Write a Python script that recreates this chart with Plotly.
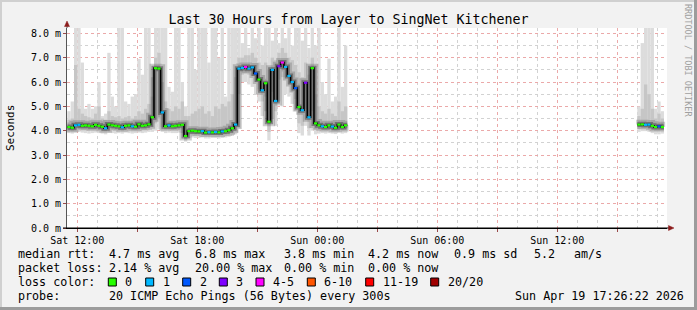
import plotly.graph_objects as go

# ---------------- data ----------------
STEP = 1 / 6  # 10-minute steps, in hours since Sat 00:00

R1_START = 11.5
R1_MED = [4.15, 4.12, 4.22, 4.24, 4.20, 4.22, 4.20, 4.18, 4.24, 4.20,
          4.16, 4.10, 4.25, 4.22, 4.20, 4.18, 4.14, 4.20, 4.22, 4.18,
          4.16, 4.26, 4.20, 4.22, 4.26, 4.55, 6.57, 6.55, 4.75, 4.18,
          4.22, 4.18, 4.20, 4.22, 4.24, 3.78, 3.98, 4.00, 3.98, 3.97,
          3.98, 3.92, 3.94, 3.93, 3.95, 3.93, 3.97, 3.98, 4.02, 4.10,
          4.25, 6.55, 6.58, 6.62, 6.55, 6.60, 6.35, 6.10, 5.66, 5.95,
          4.37, 6.50, 5.22, 6.65, 6.80, 6.62, 6.25, 6.00, 5.75, 4.97,
          4.84, 5.97, 4.55, 6.57, 4.30, 4.22, 4.18, 4.15, 4.22, 4.17,
          4.12, 4.25, 4.15, 4.22]
R1_LOSS = [0, 0, 1, 1, 0, 0, 0, 0, 0, 0,
           0, 1, 0, 0, 0, 0, 1, 0, 0, 1,
           0, 0, 0, 0, 0, 0, 0, 0, 1, 0,
           1, 0, 0, 0, 0, 0, 0, 0, 0, 0,
           1, 0, 1, 0, 1, 0, 1, 0, 0, 0,
           1, 1, 1, 4, 1, 1, 2, 0, 1, 0,
           0, 1, 1, 3, 4, 1, 1, 1, 2, 0,
           1, 3, 1, 0, 0, 0, 1, 0, 0, 1,
           0, 0, 0, 0]
R1_MIN = [3.90, 3.88, 3.92, 3.95, 3.92, 3.90, 3.88, 3.90, 3.92, 3.90,
          3.88, 3.85, 3.92, 3.90, 3.88, 3.90, 3.88, 3.92, 3.90, 3.88,
          3.90, 3.92, 3.90, 3.92, 3.95, 3.95, 4.00, 4.05, 3.95, 3.90,
          3.92, 3.90, 3.90, 3.92, 3.90, 3.55, 3.70, 3.72, 3.70, 3.70,
          3.72, 3.68, 3.68, 3.70, 3.70, 3.68, 3.70, 3.72, 3.75, 3.78,
          3.85, 4.10, 6.00, 6.00, 5.90, 5.80, 5.50, 5.20, 4.60, 4.80,
          3.60, 4.50, 4.20, 5.20, 5.00, 5.50, 5.40, 5.10, 4.80, 3.90,
          3.80, 4.20, 3.80, 4.00, 3.85, 3.88, 3.90, 3.88, 3.90, 3.88,
          3.86, 3.92, 3.88, 3.90]
R1_LO = [4.02, 4.00, 4.05, 4.08, 4.05, 4.05, 4.02, 4.04, 4.05, 4.03,
         4.00, 3.98, 4.05, 4.05, 4.03, 4.02, 4.00, 4.05, 4.05, 4.03,
         4.02, 4.08, 4.05, 4.05, 4.10, 4.15, 4.30, 4.50, 4.15, 4.05,
         4.05, 4.03, 4.05, 4.05, 4.05, 3.65, 3.85, 3.86, 3.84, 3.84,
         3.85, 3.80, 3.80, 3.82, 3.83, 3.81, 3.84, 3.85, 3.88, 3.92,
         4.00, 5.50, 6.30, 6.35, 6.30, 6.25, 6.00, 5.70, 5.20, 5.40,
         3.95, 5.60, 4.80, 6.10, 6.20, 6.20, 5.90, 5.60, 5.30, 4.30,
         4.20, 4.90, 4.10, 4.80, 4.05, 4.05, 4.03, 4.02, 4.05, 4.02,
         4.00, 4.08, 4.02, 4.05]
R1_HI = [4.45, 4.50, 6.70, 4.90, 4.70, 4.60, 4.55, 4.50, 4.70, 5.00,
         4.50, 4.45, 4.80, 4.60, 4.55, 4.60, 4.50, 4.55, 4.60, 4.50,
         4.60, 4.80, 4.70, 4.90, 5.10, 5.40, 7.00, 7.20, 6.00, 5.20,
         4.90, 4.80, 5.00, 4.90, 5.20, 4.60, 4.60, 4.70, 4.80, 4.90,
         5.00, 4.70, 4.80, 4.60, 5.00, 4.90, 5.10, 5.00, 5.20, 5.50,
         6.20, 7.00, 7.00, 7.10, 7.10, 7.20, 7.00, 6.80, 6.70, 6.80,
         6.50, 7.00, 6.90, 7.20, 7.40, 7.20, 7.00, 6.90, 6.70, 6.40,
         6.20, 6.80, 6.30, 7.00, 5.50, 5.00, 4.80, 4.70, 4.90, 4.70,
         4.60, 5.20, 4.80, 5.00]
R1_MAX = [4.80, 5.20, 8.30, 8.30, 6.80, 4.90, 5.10, 4.90, 5.00, 6.00,
          4.60, 4.70, 7.20, 5.40, 5.00, 8.30, 8.30, 5.20, 5.10, 5.40,
          5.50, 6.95, 6.30, 8.30, 8.30, 6.20, 8.30, 8.30, 8.30, 8.30,
          5.80, 5.60, 8.30, 8.30, 6.00, 5.00, 8.30, 8.30, 6.50, 8.30,
          8.30, 8.30, 6.80, 8.30, 8.30, 7.00, 8.30, 5.40, 8.30, 8.30,
          8.30, 8.30, 7.60, 8.30, 7.40, 8.30, 7.80, 8.30, 7.50, 8.30,
          8.30, 7.70, 8.30, 7.60, 8.30, 7.80, 8.30, 7.50, 8.30, 8.30,
          7.70, 8.30, 7.40, 8.30, 7.50, 8.30, 6.00, 5.50, 6.96, 5.20,
          5.40, 8.30, 5.80, 7.50]

R2_START = 40.0
R2_MED = [4.25, 4.26, 4.24, 4.25, 4.20, 4.15, 4.18, 4.15]
R2_LOSS = [0, 0, 1, 1, 0, 0, 2, 0]
R2_MIN = [3.95, 3.98, 3.98, 3.95, 3.90, 3.85, 3.85, 3.88]
R2_LO = [4.08, 4.10, 4.10, 4.08, 4.05, 4.00, 4.00, 4.02]
R2_HI = [4.60, 4.90, 5.90, 5.50, 4.90, 4.50, 4.70, 4.50]
R2_MAX = [5.00, 7.60, 8.30, 8.30, 8.30, 4.90, 5.20, 4.80]

LOSS_BINS = [(0, 0, '0', '#26ff00'), (1, 1, '1', '#00b8ff'), (2, 2, '2', '#0059ff'),
             (3, 3, '3', '#7e00ff'), (4, 5, '4-5', '#ff00ff'), (6, 10, '6-10', '#ff5500'),
             (11, 19, '11-19', '#ff0000'), (20, 20, '20/20', '#a00000')]

X_TICKS = [12, 15, 18, 21, 24, 27, 30, 33, 36, 39]
X_TEXT = ['Sat 12:00', '', 'Sat 18:00', '', 'Sun 00:00', '', 'Sun 06:00', '', 'Sun 12:00', '']

STATS = [
    ['median rtt:', '4.7 ms avg', '6.8 ms max', '3.8 ms min', '4.2 ms now', '0.9 ms sd', '5.2', 'am/s'],
    ['packet loss:', '2.14 % avg', '20.00 % max', '0.00 % min', '0.00 % now'],
]
PROBE = ['probe:', '20 ICMP Echo Pings (56 Bytes) every 300s', 'Sun Apr 19 17:26:22 2026']

regions = [(R1_START, R1_MED, R1_LOSS, R1_MIN, R1_LO, R1_HI, R1_MAX),
           (R2_START, R2_MED, R2_LOSS, R2_MIN, R2_LO, R2_HI, R2_MAX)]

# ---------------- figure ----------------
W, H = 697, 310
L, R, T, B = 67, 30, 28, 82
PW, PH = W - L - R, H - T - B


def px(x):
    return (x - L) / PW


def py(y):
    return (H - B - y) / PH


MONO = 'DejaVu Sans Mono'
fig = go.Figure()

# smoke layers: full range (light) and inner range (medium)
for lo_i, hi_i, col in [(3, 6, '#dcdcdc'), (4, 5, '#c6c6c6')]:
    for reg in regions:
        start, med = reg[0], reg[1]
        lo, hi = reg[lo_i], reg[hi_i]
        n = len(med)
        fig.add_bar(x=[start + (k + 0.5) * STEP for k in range(n)],
                    base=lo, y=[h - l for h, l in zip(hi, lo)], width=STEP,
                    marker=dict(color=col, line_width=0), hoverinfo='skip')

# median step lines (dark smoke core + black)
sx, sy = [], []
for reg in regions:
    start, med = reg[0], reg[1]
    n = len(med)
    sx += [start + k * STEP for k in range(n + 1)] + [None]
    sy += list(med) + [med[-1], None]
for wdt, col in [(9, 'rgba(90,90,90,0.30)'), (5, 'rgba(40,40,40,0.42)'), (1.6, '#000000')]:
    fig.add_scatter(x=sx, y=sy, mode='lines', line=dict(shape='hv', color=col, width=wdt),
                    hoverinfo='skip', connectgaps=False)

# loss-coloured median segments
for lo_b, hi_b, name, col in LOSS_BINS:
    xs, ys = [], []
    for reg in regions:
        start, med, loss = reg[0], reg[1], reg[2]
        for k, (m, l) in enumerate(zip(med, loss)):
            if lo_b <= l <= hi_b:
                xs += [start + k * STEP, start + (k + 1) * STEP, None]
                ys += [m, m, None]
    if xs:
        fig.add_scatter(x=xs, y=ys, mode='lines', line=dict(color=col, width=2.2), hoverinfo='skip')

RED_GRID = '#eba9a9'
GRAY_GRID = '#d2d2d2'
fig.update_layout(
    width=W, height=H, margin=dict(l=L, r=R, t=T, b=B, pad=0),
    paper_bgcolor='#f2f2f2', plot_bgcolor='#ffffff', barmode='overlay', showlegend=False,
    font=dict(family=MONO, size=10, color='#000000'),
    title=dict(text='Last 30 Hours from Layer to SingNet Kitchener', x=0.5, xanchor='center',
               y=1 - 19 / H, yanchor='middle', font=dict(family=MONO, size=13.3, color='#000000')),
)
fig.update_xaxes(range=[11.485, 41.485], tickmode='array', tickvals=X_TICKS, ticktext=X_TEXT,
                 showgrid=True, gridcolor=RED_GRID, griddash='dot', gridwidth=1,
                 minor=dict(tickmode='linear', tick0=0, dtick=1, showgrid=True, gridcolor=GRAY_GRID,
                            griddash='dot', gridwidth=1),
                 showline=True, linecolor='#000000', linewidth=1, ticks='outside', ticklen=3,
                 tickcolor='#9a4a4a', zeroline=False, fixedrange=True, tickfont=dict(size=10))
fig.update_yaxes(range=[0, 8.22], tickmode='linear', tick0=0, dtick=1, tickformat='.1f', ticksuffix=' m',
                 showgrid=True, gridcolor=RED_GRID, griddash='dot', gridwidth=1,
                 minor=dict(tickmode='linear', tick0=0, dtick=0.5, showgrid=True, gridcolor=GRAY_GRID,
                            griddash='dot', gridwidth=1),
                 showline=True, linecolor='#555555', linewidth=1, ticks='outside', ticklen=3,
                 tickcolor='#9a4a4a', zeroline=False, fixedrange=True, tickfont=dict(size=10))

ann = []
shapes = []
# y-axis label
ann.append(dict(x=px(10), y=py(128), xref='paper', yref='paper', text='Seconds', textangle=-90,
                showarrow=False, font=dict(family=MONO, size=11), xanchor='center', yanchor='middle'))
# watermark
ann.append(dict(x=px(688), y=py(60), xref='paper', yref='paper', text='RRDTOOL / TOBI OETIKER',
                textangle=90, showarrow=False, font=dict(family=MONO, size=8.5, color='#a0a0a0'),
                xanchor='center', yanchor='middle'))

LEG = 11.7
line_y = [254, 268, 282, 296]
stat_x = [[16, 107.3, 193.3, 281.5, 366, 451.7, 531.7, 571.7],
          [16, 107.3, 193.3, 281.5, 366]]
for i, (row, xs) in enumerate(zip(STATS, stat_x)):
    yy = line_y[i]
    for txt, xx in zip(row, xs):
        ann.append(dict(x=px(xx), y=py(yy), xref='paper', yref='paper', text=txt, showarrow=False,
                        xanchor='left', yanchor='middle', font=dict(family=MONO, size=LEG)))
ann.append(dict(x=px(16), y=py(282), xref='paper', yref='paper', text='loss color:', showarrow=False,
                xanchor='left', yanchor='middle', font=dict(family=MONO, size=LEG)))
box_x = [108.3, 145.7, 182.7, 219.3, 256, 307.3, 365.7, 430.7]
for (lo_b, hi_b, name, col), bx in zip(LOSS_BINS, box_x):
    shapes.append(dict(type='rect', xref='paper', yref='paper', x0=px(bx), x1=px(bx + 8),
                       y0=py(278), y1=py(286), fillcolor=col, line=dict(color='#000000', width=1)))
    ann.append(dict(x=px(bx + 15), y=py(282), xref='paper', yref='paper', text=name, showarrow=False,
                    xanchor='left', yanchor='middle', font=dict(family=MONO, size=LEG)))
for txt, xx in zip(PROBE, [16, 107.3, 513.3]):
    ann.append(dict(x=px(xx), y=py(296), xref='paper', yref='paper', text=txt, showarrow=False,
                    xanchor='left', yanchor='middle', font=dict(family=MONO, size=LEG)))

# axis extensions and arrows
AX_RED = '#8c1c1c'
shapes.append(dict(type='line', xref='paper', yref='paper', x0=0, x1=0, y0=1, y1=py(24),
                   line=dict(color='#555555', width=1)))
shapes.append(dict(type='line', xref='paper', yref='paper', x0=px(63), x1=px(670), y0=0, y1=0,
                   line=dict(color='#000000', width=1)))
shapes.append(dict(type='path', xref='paper', yref='paper',
                   path=f'M {px(64.5)},{py(26.5)} L {px(69.5)},{py(26.5)} L {px(67)},{py(21)} Z',
                   fillcolor=AX_RED, line=dict(color=AX_RED, width=0.5)))
shapes.append(dict(type='path', xref='paper', yref='paper',
                   path=f'M {px(668.5)},{py(225.5)} L {px(668.5)},{py(230.5)} L {px(674)},{py(228)} Z',
                   fillcolor=AX_RED, line=dict(color=AX_RED, width=0.5)))
# image frame
shapes.append(dict(type='rect', xref='paper', yref='paper', x0=px(694), x1=px(697), y0=py(0), y1=py(310),
                   fillcolor='#9c9c9c', line_width=0))
shapes.append(dict(type='rect', xref='paper', yref='paper', x0=px(0), x1=px(697), y0=py(307), y1=py(310),
                   fillcolor='#9c9c9c', line_width=0))
shapes.append(dict(type='rect', xref='paper', yref='paper', x0=px(0), x1=px(694), y0=py(0), y1=py(2),
                   fillcolor='#d0d0d0', line_width=0))
shapes.append(dict(type='rect', xref='paper', yref='paper', x0=px(0), x1=px(2), y0=py(0), y1=py(307),
                   fillcolor='#d0d0d0', line_width=0))

fig.update_layout(annotations=ann, shapes=shapes)
fig.write_html('out.html')
